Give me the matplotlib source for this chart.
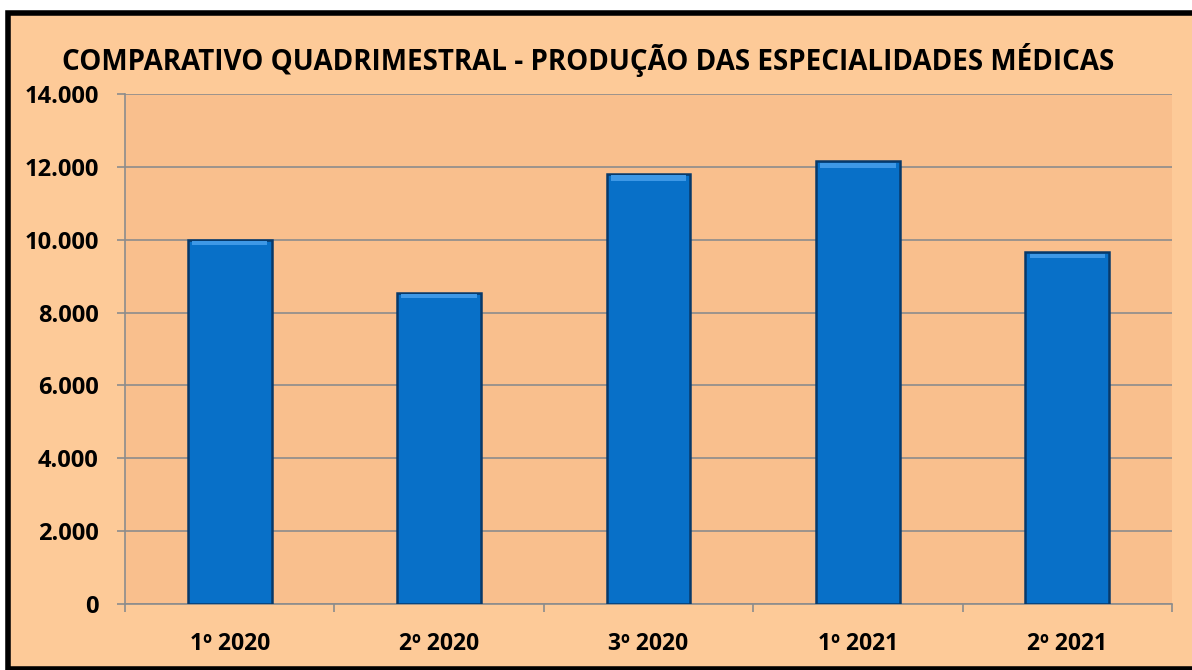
import matplotlib.pyplot as plt
from matplotlib.patches import Rectangle
from matplotlib.ticker import FuncFormatter, FixedLocator

# dados
periodos = ['1º 2020', '2º 2020', '3º 2020', '1º 2021', '2º 2021']
producao = [10000, 8530, 11800, 12150, 9650]
y_ticks = [0, 2000, 4000, 6000, 8000, 10000, 12000, 14000]

fig = plt.figure(figsize=(11.92, 6.70), dpi=100)
fig.patch.set_facecolor('white')

# moldura preta com fundo pessego
frame = Rectangle((8 / 1192, 0.002), 1.2, 1 - 14 / 670, transform=fig.transFigure,
                  facecolor='#FDCA98', edgecolor='black', linewidth=4, zorder=-10)
fig.patches.append(frame)

ax = fig.add_axes([125 / 1192, 1 - 604 / 670, (1172 - 125) / 1192, (604 - 94) / 670])
ax.set_facecolor('#F9BF8D')

x = list(range(len(periodos)))
ax.bar(x, producao, width=0.4, color='#0870C8', edgecolor='#07396A', linewidth=1.8, zorder=3)
# brilho no topo das barras
ax.bar(x, [v * 0.012 for v in producao], bottom=[v * 0.985 for v in producao], width=0.36,
       color='#3E98E6', linewidth=0, zorder=4)

ax.set_xlim(-0.5, len(periodos) - 0.5)
ax.set_ylim(0, 14000)
ax.yaxis.set_major_locator(FixedLocator(y_ticks))
ax.yaxis.set_major_formatter(FuncFormatter(lambda v, p: f'{int(v):,}'.replace(',', '.')))
ax.set_xticks(x)
ax.set_xticklabels(periodos)
ax.xaxis.set_minor_locator(FixedLocator([i - 0.5 for i in range(len(periodos) + 1)]))

ax.grid(axis='y', color='#8C8C8C', linewidth=1.2, zorder=0)
for s in ['top', 'right']:
    ax.spines[s].set_visible(False)
for s in ['left', 'bottom']:
    ax.spines[s].set_color('#8C8C8C')
    ax.spines[s].set_linewidth(1.2)

ax.tick_params(axis='y', length=6, color='#8C8C8C', width=1.2, pad=13,
               labelsize=17)
ax.tick_params(axis='x', which='major', length=0, pad=20, labelsize=16.5)
ax.tick_params(axis='x', which='minor', length=6, color='#8C8C8C', width=1.2)
for lab in ax.get_xticklabels() + ax.get_yticklabels():
    lab.set_fontweight('bold')
    lab.set_fontfamily('Open Sans')

fig.text(588 / 1192, 1 - 60 / 670, 'COMPARATIVO QUADRIMESTRAL - PRODUÇÃO DAS ESPECIALIDADES MÉDICAS',
         ha='center', va='center', fontsize=20, fontweight='bold', family='Open Sans')

fig.savefig('out.png', dpi=100)
